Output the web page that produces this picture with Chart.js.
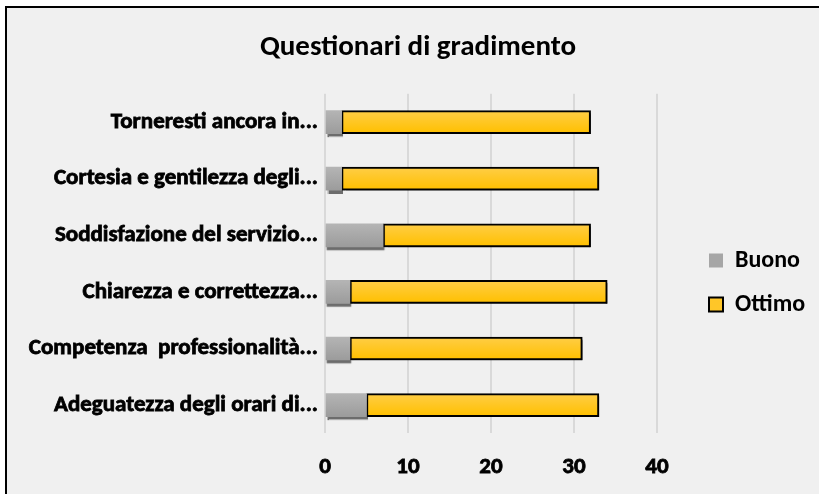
<!DOCTYPE html>
<html>
<head>
<meta charset="utf-8">
<script src="https://cdn.jsdelivr.net/npm/chart.js@4"></script>
<style>
  html, body { margin: 0; padding: 0; background: #fff; overflow: hidden; }
  #box {
    position: absolute; left: 5px; top: 6px;
    width: 822px; height: 500px;
    border: 2px solid #000; background: #f0f0f0;
  }
  #grafico { display: block; }
</style>
</head>
<body>
<div id="box"><canvas id="grafico" width="822" height="500"></canvas></div>
<script>
const categorie = [
  'Torneresti ancora in...',
  'Cortesia e gentilezza degli...',
  'Soddisfazione del servizio...',
  'Chiarezza e correttezza...',
  'Competenza  professionalità...',
  'Adeguatezza degli orari di...'
];
const buono = [2, 2, 7, 3, 3, 5];
const ottimo = [30, 31, 25, 31, 28, 28];
const tickX = [0, 10, 20, 30, 40];

const FONT = 'Carlito, Calibri, Lato';
const graficoCanvas = document.getElementById('grafico');

// gradiente verticale per ogni barra
function gradiente(top, bottom) {
  return (c) => {
    const chart = c.chart;
    if (!chart.chartArea || c.type !== 'data') return top;
    const y = chart.scales.y.getPixelForValue(c.dataIndex);
    const g = chart.ctx.createLinearGradient(0, y - 11, 0, y + 11);
    g.addColorStop(0, top);
    g.addColorStop(1, bottom);
    return g;
  };
}

const ombra = {
  id: 'ombra',
  beforeDatasetsDraw(chart) {
    const ctx = chart.ctx;
    ctx.save();
    ctx.shadowColor = 'rgba(0,0,0,0.55)';
    ctx.shadowOffsetY = 3;
    ctx.shadowOffsetX = 1;
    ctx.shadowBlur = 1;
  },
  afterDatasetsDraw(chart) {
    chart.ctx.restore();
  }
};

const spostaLegenda = {
  id: 'spostaLegenda',
  beforeInit(chart) {
    const fit = chart.legend.fit;
    chart.legend.fit = function () {
      fit.bind(chart.legend)();
      this.width = 172;
    };
  },
  afterLayout(chart) {
    const lg = chart.legend;
    lg.left = 682;
    lg.top += 56;
  }
};

const config = {
  type: 'bar',
  data: {
    labels: categorie,
    datasets: [
      {
        label: 'Buono',
        data: buono,
        backgroundColor: gradiente('#b4b4b4', '#9c9c9c'),
        borderWidth: 0,
        barThickness: 23
      },
      {
        label: 'Ottimo',
        data: ottimo,
        backgroundColor: gradiente('#ffcd45', '#ffc000'),
        borderColor: '#000',
        borderWidth: 2,
        borderSkipped: false,
        barThickness: 23
      }
    ]
  },
  options: {
    indexAxis: 'y',
    responsive: false,
    animation: false,
    layout: { padding: { top: 0, right: 0, bottom: 7, left: 0 } },
    scales: {
      x: {
        stacked: true,
        min: 0,
        max: 40,
        afterBuildTicks(scale) {
          scale.ticks = tickX.map(v => ({ value: v }));
        },
        grid: { color: '#d9d9d9', lineWidth: 2, drawTicks: false },
        border: { display: false },
        ticks: {
          padding: 20,
          color: '#000',
          textStrokeColor: '#000',
          textStrokeWidth: 0.8,
          font: { family: FONT, size: 23, weight: 'bold' }
        }
      },
      y: {
        stacked: true,
        afterFit(scale) { scale.width = 318; },
        grid: { display: false, drawTicks: false },
        border: { display: false },
        ticks: {
          padding: 7,
          color: '#000',
          textStrokeColor: '#000',
          textStrokeWidth: 0.8,
          font: { family: FONT, size: 23, weight: 'bold' }
        }
      }
    },
    plugins: {
      title: {
        display: true,
        text: 'Questionari di gradimento',
        color: '#000',
        font: { family: FONT, size: 29, weight: 'bold' },
        padding: { top: 22, bottom: 29 }
      },
      legend: {
        position: 'right',
        labels: {
          color: '#000',
          boxWidth: 14,
          boxHeight: 14,
          padding: 20,
          font: { family: FONT, size: 24, weight: 'bold' },
          generateLabels() {
            return [
              { text: 'Buono', fillStyle: '#a6a6a6', strokeStyle: '#a6a6a6', lineWidth: 0, datasetIndex: 0, fontColor: '#000' },
              { text: 'Ottimo', fillStyle: '#ffc628', strokeStyle: '#000', lineWidth: 2, datasetIndex: 1, fontColor: '#000' }
            ];
          }
        }
      },
      tooltip: { enabled: false }
    }
  },
  plugins: [ombra, spostaLegenda]
};

new Chart(graficoCanvas, config);
</script>
</body>
</html>
